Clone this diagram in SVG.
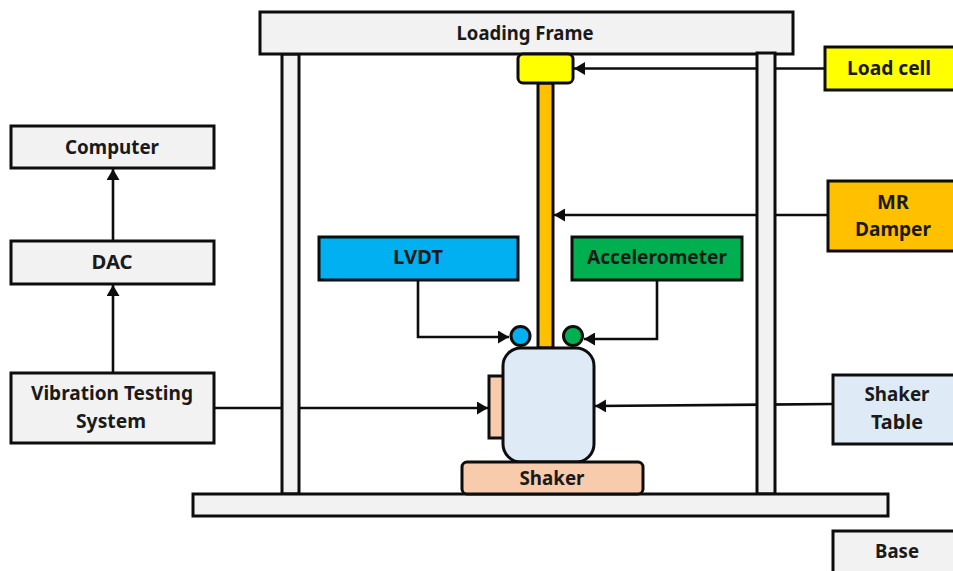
<svg xmlns="http://www.w3.org/2000/svg" width="953" height="571" viewBox="0 0 953 571">
<style>
.s{stroke:#0d0d0d;stroke-width:3}
.g{fill:#f2f2f2}
.c{fill:none;stroke:#0d0d0d;stroke-width:2.600}
text{font-family:"Noto Sans","Open Sans","Liberation Sans",sans-serif;font-weight:700;font-size:20px;fill:#1a1a1a;text-anchor:middle}
</style>
<defs>
<marker id="a" markerUnits="userSpaceOnUse" markerWidth="12" markerHeight="13" refX="11" refY="6.500" orient="auto"><path d="M0 0L11 6.500L0 13Z" fill="#0d0d0d"/></marker>
</defs>
<rect width="953" height="571" fill="#fff"/>
<g id="connectors">
<path class="c" d="M825 68.500H574" marker-end="url(#a)"/>
<path class="c" d="M828 215H554" marker-end="url(#a)"/>
<path class="c" d="M833 404L595 406" marker-end="url(#a)"/>
<path class="c" d="M214 408H488" marker-end="url(#a)"/>
<path class="c" d="M418 280V337H509" marker-end="url(#a)"/>
<path class="c" d="M657 280V339H584" marker-end="url(#a)"/>
<path class="c" d="M113 241V169" marker-end="url(#a)"/>
<path class="c" d="M113 373V285" marker-end="url(#a)"/>
</g>
<g id="column-left"><rect class="s g" x="282" y="54" width="17" height="440"/></g>
<g id="loading-frame"><rect class="s g" x="260" y="12" width="533" height="42"/><text x="525" y="40" textLength="137" lengthAdjust="spacingAndGlyphs">Loading Frame</text></g>
<g id="column-right"><rect class="s g" x="757" y="53" width="18" height="441"/></g>
<g id="base"><rect class="s g" x="193" y="494" width="695" height="22"/></g>
<g id="rod"><rect class="s" x="538" y="83" width="15" height="265" fill="#ffc000"/></g>
<g id="load-cell-body"><rect class="s" x="518" y="54" width="55" height="29" rx="5" fill="#ff0"/></g>
<g id="plate"><rect class="s" x="489" y="376" width="15" height="62" fill="#f8cbad"/></g>
<g id="shaker-body"><rect class="s" x="503" y="348" width="91" height="114" rx="18" fill="#deebf7"/></g>
<g id="shaker"><rect class="s" x="462" y="462" width="181" height="32" rx="5" fill="#f8cbad"/><text x="552" y="485" textLength="65" lengthAdjust="spacingAndGlyphs">Shaker</text></g>
<g id="sensor-lvdt"><circle class="s" cx="520.500" cy="336" r="9.500" fill="#00b0f0"/></g>
<g id="sensor-accelerometer"><circle class="s" cx="573" cy="336" r="9.500" fill="#00b050"/></g>
<g id="computer"><rect class="s g" x="11" y="126" width="203" height="42"/><text x="112" y="154" textLength="94" lengthAdjust="spacingAndGlyphs">Computer</text></g>
<g id="dac"><rect class="s g" x="11" y="241" width="203" height="43"/><text x="112" y="269" textLength="41" lengthAdjust="spacingAndGlyphs">DAC</text></g>
<g id="vibration-testing-system"><rect class="s g" x="11" y="373" width="203" height="70"/><text x="112" y="400" textLength="162" lengthAdjust="spacingAndGlyphs">Vibration Testing</text><text x="111" y="428" textLength="70" lengthAdjust="spacingAndGlyphs">System</text></g>
<g id="lvdt"><rect class="s" x="319" y="237" width="199" height="43" fill="#00b0f0"/><text x="418" y="264" textLength="50" lengthAdjust="spacingAndGlyphs">LVDT</text></g>
<g id="accelerometer"><rect class="s" x="572" y="237" width="170" height="43" fill="#00b050"/><text x="657" y="264" textLength="140" lengthAdjust="spacingAndGlyphs">Accelerometer</text></g>
<g id="load-cell"><rect class="s" x="825" y="47" width="132" height="43" fill="#ff0"/><text x="889" y="75" textLength="84" lengthAdjust="spacingAndGlyphs">Load cell</text></g>
<g id="mr-damper"><rect class="s" x="828" y="181" width="129" height="70" fill="#ffc000"/><text x="893" y="209" textLength="32" lengthAdjust="spacingAndGlyphs">MR</text><text x="893" y="236" textLength="76" lengthAdjust="spacingAndGlyphs">Damper</text></g>
<g id="shaker-table"><rect class="s" x="833" y="375" width="124" height="69" fill="#deebf7"/><text x="897" y="401" textLength="65" lengthAdjust="spacingAndGlyphs">Shaker</text><text x="897" y="429" textLength="52" lengthAdjust="spacingAndGlyphs">Table</text></g>
<g id="base-label"><rect class="s g" x="833" y="531" width="124" height="50"/><text x="897" y="558" textLength="44" lengthAdjust="spacingAndGlyphs">Base</text></g>
</svg>
